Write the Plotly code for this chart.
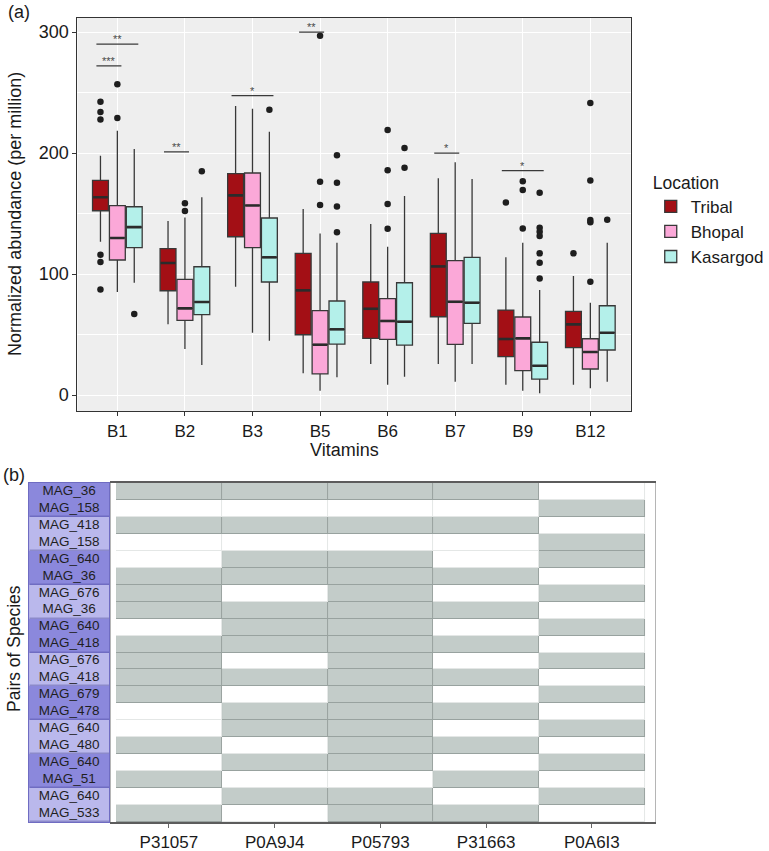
import plotly.graph_objects as go

W, H = 769, 851
FONT = "Liberation Sans, Arial, sans-serif"

# ---------------- Panel (a) data ----------------
vitamins = ["B1", "B2", "B3", "B5", "B6", "B7", "B9", "B12"]
locations = ["Tribal", "Bhopal", "Kasargod"]

tribal_low = [126.7, 58.4, 89.5, 17.9, 25.6, 25.6, 8.5, 8.5]
tribal_q1 = [152.3, 86.2, 130.8, 49.8, 46.8, 64.7, 31.7, 39.1]
tribal_med = [163.4, 109.1, 165.0, 86.5, 71.3, 106.3, 46.3, 58.4]
tribal_q3 = [177.4, 121.0, 182.9, 117.1, 93.4, 133.6, 70.2, 69.2]
tribal_up = [197.8, 143.8, 238.8, 153.7, 141.3, 179.1, 113.8, 98.3]

bhopal_low = [85.1, 38.0, 51.5, 3.6, 8.5, 11.0, 3.6, 5.5]
bhopal_q1 = [111.6, 61.7, 121.8, 17.4, 46.0, 41.9, 20.1, 21.5]
bhopal_med = [129.8, 71.6, 156.7, 41.6, 61.2, 77.1, 46.8, 35.5]
bhopal_q3 = [156.5, 95.6, 183.5, 69.7, 79.6, 111.0, 64.5, 46.5]
bhopal_up = [218.4, 146.8, 236.6, 133.6, 122.6, 192.3, 125.9, 76.3]

kasargod_low = [92.8, 24.8, 44.9, 14.6, 15.2, 25.6, 1.4, 11.0]
kasargod_q1 = [121.8, 66.4, 93.4, 42.1, 41.3, 59.2, 13.2, 37.2]
kasargod_med = [138.8, 76.9, 113.8, 54.3, 60.6, 76.3, 24.2, 51.5]
kasargod_q3 = [155.6, 106.0, 146.3, 77.7, 92.8, 113.8, 43.6, 73.8]
kasargod_up = [203.3, 163.4, 217.6, 125.9, 164.5, 178.5, 86.8, 125.9]

tribal_out_vit = ["B1", "B1", "B1", "B1", "B1", "B1", "B9", "B12"]
tribal_out_val = [242.4, 233.9, 227.8, 116.0, 110.0, 87.3, 159.2, 117.1]
bhopal_out_vit = ["B1", "B1", "B2", "B2", "B5", "B5", "B5", "B6", "B6", "B6", "B6",
                  "B9", "B9", "B9", "B12", "B12", "B12", "B12", "B12"]
bhopal_out_val = [256.8, 228.9, 158.4, 152.1, 297.0, 176.3, 157.0, 219.0, 185.7, 157.9, 137.4,
                  176.6, 169.4, 137.7, 241.3, 177.4, 144.6, 142.7, 93.7]
kasargod_out_vit = ["B1", "B2", "B3", "B5", "B5", "B5", "B5", "B6", "B6",
                    "B9", "B9", "B9", "B9", "B9", "B9", "B9", "B12"]
kasargod_out_val = [66.9, 184.9, 235.8, 198.1, 175.5, 155.9, 134.5, 204.1, 187.9,
                    167.2, 138.3, 135.0, 131.4, 117.1, 109.3, 96.4, 144.9]

sig_vit = ["B1", "B1", "B2", "B3", "B5", "B7", "B9"]
sig_y = [290.0, 272.0, 201.0, 247.4, 300.0, 200.0, 185.4]
sig_label = ["**", "***", "**", "*", "**", "*", "*"]
sig_to = ["Kasargod", "Bhopal", "Bhopal", "Kasargod", "Bhopal", "Bhopal", "Kasargod"]

# ---------------- Panel (b) data ----------------
proteins = ["P31057", "P0A9J4", "P05793", "P31663", "P0A6I3"]
species_rows = ["MAG_36", "MAG_158", "MAG_418", "MAG_158", "MAG_640", "MAG_36",
                "MAG_676", "MAG_36", "MAG_640", "MAG_418", "MAG_676", "MAG_418",
                "MAG_679", "MAG_478", "MAG_640", "MAG_480", "MAG_640", "MAG_51",
                "MAG_640", "MAG_533"]
presence = [
    [1, 1, 1, 1, 0],
    [0, 0, 0, 0, 1],
    [1, 1, 1, 1, 0],
    [0, 0, 0, 0, 1],
    [0, 1, 1, 0, 1],
    [1, 1, 1, 1, 0],
    [1, 0, 1, 0, 1],
    [1, 1, 1, 1, 0],
    [0, 1, 1, 0, 1],
    [1, 1, 1, 1, 0],
    [1, 0, 1, 0, 1],
    [1, 1, 1, 1, 0],
    [1, 0, 1, 0, 1],
    [0, 1, 1, 1, 0],
    [0, 1, 1, 0, 1],
    [1, 0, 1, 1, 0],
    [0, 1, 1, 0, 1],
    [1, 0, 0, 1, 0],
    [0, 1, 1, 0, 1],
    [1, 0, 1, 1, 0],
]

# ---------------- styling ----------------
fills = {"Tribal": "#A30F15", "Bhopal": "#FBA8D8", "Kasargod": "#B4F0EA"}
offsets = {"Tribal": -0.25, "Bhopal": 0.0, "Kasargod": 0.25}
BOX_W = 0.235
stats = {
    "Tribal": (tribal_low, tribal_q1, tribal_med, tribal_q3, tribal_up, tribal_out_vit, tribal_out_val),
    "Bhopal": (bhopal_low, bhopal_q1, bhopal_med, bhopal_q3, bhopal_up, bhopal_out_vit, bhopal_out_val),
    "Kasargod": (kasargod_low, kasargod_q1, kasargod_med, kasargod_q3, kasargod_up, kasargod_out_vit, kasargod_out_val),
}

def px(x):
    return x / W

def py(y):
    return 1 - y / H

fig = go.Figure()
vidx = {v: i for i, v in enumerate(vitamins)}

for loc in locations:
    low, q1, med, q3, up, ov, oval = stats[loc]
    xs = [i + offsets[loc] for i in range(len(vitamins))]
    fig.add_trace(go.Box(
        x=xs, q1=q1, median=med, q3=q3, lowerfence=low, upperfence=up,
        width=BOX_W, whiskerwidth=0, boxpoints=False,
        fillcolor=fills[loc], line=dict(color="#383838", width=1.3),
        name=loc, legendgroup=loc, xaxis="x", yaxis="y",
    ))
    # thicker median bar (ggplot style)
    mx, my = [], []
    for xc, m in zip(xs, med):
        mx += [xc - BOX_W / 2 + 0.01, xc + BOX_W / 2 - 0.01, None]
        my += [m, m, None]
    fig.add_trace(go.Scatter(
        x=mx, y=my, mode="lines", line=dict(color="#2b2b2b", width=2.6),
        showlegend=False, legendgroup=loc, hoverinfo="skip", xaxis="x", yaxis="y",
    ))
    fig.add_trace(go.Scatter(
        x=[vidx[v] + offsets[loc] for v in ov], y=oval, mode="markers",
        marker=dict(color="#1e1e1e", size=6.5), showlegend=False,
        legendgroup=loc, hoverinfo="skip", xaxis="x", yaxis="y",
    ))

# significance brackets
for v, yv, lab, to in zip(sig_vit, sig_y, sig_label, sig_to):
    x0 = vidx[v] + offsets["Tribal"] - 0.06
    x1 = vidx[v] + offsets[to] + 0.06
    fig.add_trace(go.Scatter(
        x=[x0, x1], y=[yv, yv], mode="lines",
        line=dict(color="#3a3a3a", width=1.2), showlegend=False,
        hoverinfo="skip", xaxis="x", yaxis="y",
    ))
    fig.add_annotation(x=(x0 + x1) / 2, y=yv, xref="x", yref="y", text=lab,
                       showarrow=False, yanchor="bottom", yshift=-3,
                       font=dict(size=11, color="#4a4a4a", family=FONT))

# heatmap: border layer then fill layer with gaps
fig.add_trace(go.Heatmap(
    z=presence, x=list(range(len(proteins))), y=list(range(len(species_rows))),
    colorscale=[[0, "#E4E7E6"], [1, "#98A29F"]], zmin=0, zmax=1,
    showscale=False, hoverinfo="skip", xaxis="x2", yaxis="y2",
))
fig.add_trace(go.Heatmap(
    z=presence, x=list(range(len(proteins))), y=list(range(len(species_rows))),
    colorscale=[[0, "#FFFFFF"], [1, "#C3CCC9"]], zmin=0, zmax=1,
    xgap=1, ygap=1, showscale=False, hoverinfo="skip", xaxis="x2", yaxis="y2",
))

# species pair label column
n_pairs = len(species_rows) // 2
pair_centers = [2 * k + 0.5 for k in range(n_pairs)]
pair_shade = [[k % 2] for k in range(n_pairs)]
fig.add_trace(go.Heatmap(
    z=pair_shade, x=[0], y=pair_centers,
    colorscale=[[0, "#6F6CC2"], [1, "#8C8ACB"]], zmin=0, zmax=1,
    showscale=False, hoverinfo="skip", xaxis="x3", yaxis="y3",
))
fig.add_trace(go.Heatmap(
    z=pair_shade, x=[0], y=pair_centers,
    colorscale=[[0, "#8B88DC"], [1, "#BAB8EC"]], zmin=0, zmax=1, ygap=1.5,
    showscale=False, hoverinfo="skip", xaxis="x3", yaxis="y3",
))
fig.add_trace(go.Scatter(
    x=[0] * len(species_rows), y=list(range(len(species_rows))), text=species_rows,
    mode="text", textfont=dict(size=13.5, color="#1f1f1f", family=FONT),
    showlegend=False, hoverinfo="skip", xaxis="x3", yaxis="y3",
))

axis_font = dict(family=FONT, color="#1a1a1a")

fig.update_layout(
    width=W, height=H, margin=dict(l=0, r=0, t=0, b=0),
    paper_bgcolor="white", plot_bgcolor="white",
    font=dict(family=FONT, color="#1a1a1a"),
    boxmode="overlay",
    showlegend=True,
    legend=dict(
        x=px(655), y=py(166), xanchor="left", yanchor="top",
        title=dict(text="Location", font=dict(size=17.5, family=FONT)),
        font=dict(size=17, family=FONT), bgcolor="rgba(0,0,0,0)",
        tracegroupgap=0,
    ),
    xaxis=dict(
        domain=[px(78), px(635)], range=[-0.59, 7.60],
        tickvals=list(range(len(vitamins))), ticktext=vitamins,
        showgrid=True, gridcolor="white", gridwidth=1.2,
        ticks="outside", ticklen=4, tickcolor="#333", tickwidth=1,
        showline=True, mirror=True, linecolor="#333", linewidth=1.2,
        tickfont=dict(size=17, **axis_font), zeroline=False, anchor="y",
    ),
    yaxis=dict(
        domain=[py(411), py(18)], range=[-13.2, 311.6],
        tickvals=[0, 100, 200, 300],
        showgrid=True, gridcolor="white", gridwidth=1.2,
        minor=dict(tickvals=[50, 150, 250], showgrid=True, gridcolor="white", gridwidth=0.6, ticks=""),
        ticks="outside", ticklen=4, tickcolor="#333", tickwidth=1,
        showline=True, mirror=True, linecolor="#333", linewidth=1.2,
        tickfont=dict(size=18, **axis_font), zeroline=False, anchor="x",
    ),
    xaxis2=dict(
        domain=[px(112), px(659)], range=[-0.545, 4.594],
        tickvals=list(range(len(proteins))), ticktext=proteins,
        showgrid=False, zeroline=False,
        ticks="outside", ticklen=4, tickcolor="#666", tickwidth=1,
        showline=True, mirror=True, linecolor="#5c5c5c", linewidth=1.5,
        tickfont=dict(size=17, **axis_font), anchor="y2",
    ),
    yaxis2=dict(
        domain=[py(822), py(483)], range=[19.5, -0.5],
        showticklabels=False, showgrid=False, zeroline=False, ticks="",
        showline=True, mirror=True, linecolor="#b5b5b5", linewidth=1,
        anchor="x2",
    ),
    xaxis3=dict(
        domain=[px(29.3), px(110)], range=[-0.5, 0.5],
        showticklabels=False, showgrid=False, zeroline=False, ticks="",
        showline=True, mirror=True, linecolor="#6F6CC2", linewidth=1,
        anchor="y3",
    ),
    yaxis3=dict(
        domain=[py(822), py(483)], range=[19.5, -0.5],
        showticklabels=False, showgrid=False, zeroline=False, ticks="",
        showline=True, mirror=True, linecolor="#6F6CC2", linewidth=1,
        anchor="x3",
    ),
)

# grey panel background for (a)
fig.add_shape(type="rect", xref="x domain", yref="y domain", x0=0, x1=1, y0=0, y1=1,
              fillcolor="#EEEEEE", line=dict(width=0), layer="below")

# texts
fig.add_annotation(x=px(6), y=py(12), xref="paper", yref="paper", text="(a)",
                   showarrow=False, xanchor="left", yanchor="middle",
                   font=dict(size=18, family=FONT))
fig.add_annotation(x=px(1), y=py(475), xref="paper", yref="paper", text="(b)",
                   showarrow=False, xanchor="left", yanchor="middle",
                   font=dict(size=18, family=FONT))
fig.add_annotation(x=px(15), y=py(214), xref="paper", yref="paper",
                   text="Normalized abundance (per million)", textangle=-90,
                   showarrow=False, xanchor="center", yanchor="middle",
                   font=dict(size=18, family=FONT))
fig.add_annotation(x=px(347), y=py(450), xref="paper", yref="paper", text="Vitamins",
                   showarrow=False, xanchor="center", yanchor="middle",
                   font=dict(size=18, family=FONT))
fig.add_annotation(x=px(14), y=py(648), xref="paper", yref="paper",
                   text="Pairs of Species", textangle=-90,
                   showarrow=False, xanchor="center", yanchor="middle",
                   font=dict(size=17.5, family=FONT))

# remove the default 8px page margin so the figure sits at the window's top-left corner
fig.write_html("out.html", config={"displayModeBar": False},
               post_script="document.body.style.margin='0';document.body.style.overflow='hidden';")
